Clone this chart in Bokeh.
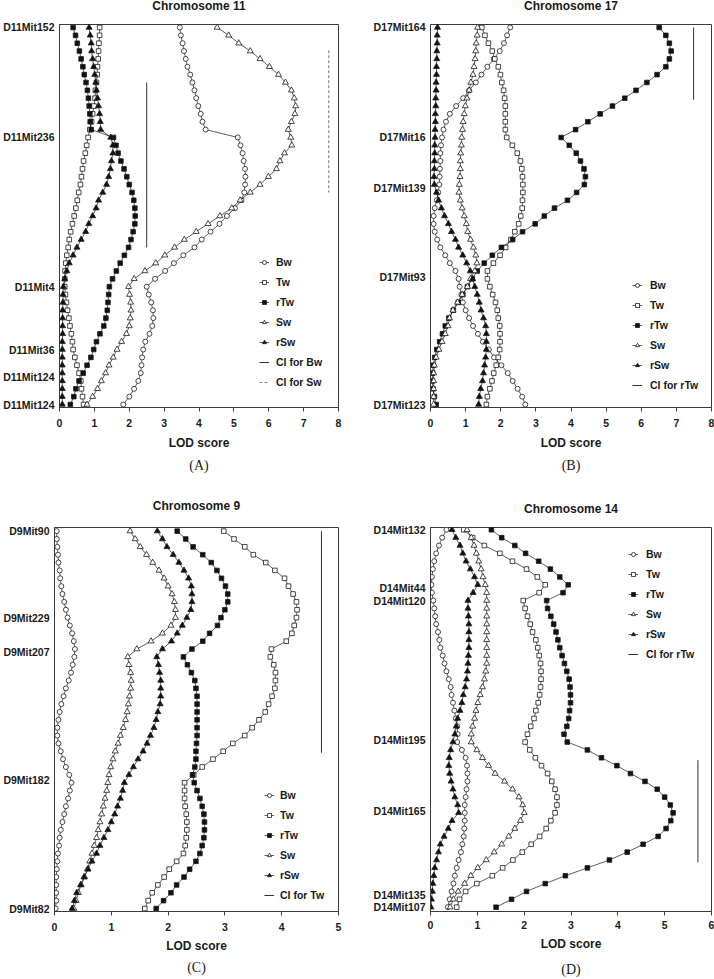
from bokeh.plotting import figure
from bokeh.models import Range1d, FixedTicker, Legend, LegendItem, ColumnDataSource, LinearAxis
from bokeh.layouts import column, row
from bokeh.embed import file_html
from bokeh.resources import INLINE

# analysis positions along each chromosome (scan steps, top to bottom)
positions = list(range(49))

# ---------------- Chromosome 11 (A) ----------------
A_bw = [3.45,3.48,3.53,3.57,3.62,3.67,3.75,3.81,3.87,3.92, 3.98,4.05,4.10,4.19,5.11,5.19,5.25,5.28,5.32,5.33,
        5.32,5.30,5.22,5.03,4.80,4.59,4.33,4.08,3.87,3.55, 3.28,3.03,2.74,2.50,2.56,2.63,2.68,2.69,2.66,2.58,
        2.46,2.40,2.37,2.35,2.33,2.26,2.14,2.00,1.83]
A_tw = [1.15,1.15,1.13,1.12,1.11,1.09,1.08,1.06,1.03,1.02, 0.99,0.95,0.92,0.87,0.82,0.78,0.74,0.69,0.66,0.63,
        0.60,0.55,0.51,0.47,0.42,0.37,0.32,0.28,0.25,0.21, 0.18,0.16,0.15,0.15,0.17,0.20,0.23,0.27,0.30,0.34,
        0.37,0.39,0.44,0.50,0.56,0.61,0.63,0.66,0.69]
A_rtw = [0.39,0.46,0.51,0.57,0.62,0.67,0.71,0.76,0.80,0.83, 0.85,0.87,0.88,0.91,1.55,1.62,1.68,1.76,1.85,1.93,
         2.00,2.08,2.13,2.16,2.17,2.16,2.11,2.05,1.98,1.86, 1.74,1.63,1.52,1.43,1.41,1.39,1.37,1.33,1.27,1.16,
         1.06,0.98,0.90,0.79,0.68,0.56,0.47,0.41,0.31]
A_sw = [4.52,4.85,5.14,5.47,5.75,6.02,6.28,6.48,6.65,6.73, 6.77,6.75,6.65,6.56,6.63,6.66,6.45,6.32,6.22,5.99,
        5.75,5.47,5.18,4.94,4.60,4.26,3.92,3.58,3.30,3.02, 2.76,2.45,2.14,1.98,2.01,2.04,2.05,2.03,2.00,1.92,
        1.78,1.65,1.54,1.42,1.32,1.20,1.09,0.95,0.79]
A_rsw = [0.85,0.88,0.91,0.92,0.95,0.98,1.01,1.04,1.06,1.09, 1.12,1.15,1.17,1.18,1.47,1.53,1.53,1.49,1.46,1.41,
         1.35,1.24,1.12,1.05,0.95,0.84,0.75,0.62,0.50,0.39, 0.28,0.21,0.15,0.11,0.10,0.10,0.09,0.09,0.09,0.09,
         0.08,0.08,0.08,0.08,0.08,0.08,0.08,0.08,0.08]
A_markers = ["D11Mit152", "D11Mit236", "D11Mit4", "D11Mit36", "D11Mit124", "D11Mit124"]
A_marker_pos = [0, 14.0, 33.1, 41.1, 44.5, 48]
A_ci_labels = ["CI for Bw", "CI for Sw"]
A_ci_lod = [2.5, 7.72]
A_ci_start = [7.0, 2.9]
A_ci_end = [28.0, 21.0]

# ---------------- Chromosome 17 (B) ----------------
B_bw = [2.27,2.18,2.09,1.97,1.80,1.62,1.45,1.29,1.10,0.93, 0.73,0.55,0.44,0.37,0.33,0.30,0.28,0.28,0.27,0.26,
        0.25,0.22,0.18,0.12,0.09,0.09,0.12,0.19,0.28,0.42, 0.55,0.71,0.80,0.83,0.88,0.92,1.00,1.10,1.21,1.35,
        1.49,1.66,1.81,2.02,2.20,2.34,2.48,2.61,2.70]
B_tw = [1.46,1.55,1.65,1.76,1.83,1.93,1.99,2.03,2.08,2.11, 2.13,2.13,2.13,2.13,2.17,2.33,2.47,2.56,2.60,2.62,
        2.63,2.63,2.62,2.61,2.57,2.51,2.40,2.29,2.14,1.98, 1.79,1.62,1.62,1.69,1.77,1.85,1.90,1.93,1.97,1.98,
        1.98,1.97,1.93,1.87,1.80,1.75,1.69,1.62,1.59]
B_rtw = [6.51,6.70,6.80,6.85,6.80,6.70,6.45,6.16,5.85,5.53, 5.18,4.83,4.48,4.13,3.72,3.95,4.15,4.27,4.37,4.41,
         4.38,4.16,3.90,3.53,3.24,2.98,2.62,2.34,2.02,1.76, 1.53,1.33,1.19,1.05,0.92,0.79,0.65,0.52,0.42,0.34,
         0.26,0.18,0.12,0.08,0.06,0.05,0.07,0.11,0.16]
B_sw = [1.34,1.33,1.30,1.29,1.27,1.24,1.21,1.15,1.10,1.04, 0.99,0.96,0.93,0.91,0.89,0.88,0.86,0.85,0.85,0.84,
        0.82,0.81,0.85,0.90,0.96,1.02,1.06,1.14,1.22,1.29, 1.32,1.26,1.14,1.05,0.90,0.77,0.64,0.54,0.50,0.42,
        0.33,0.24,0.16,0.11,0.09,0.09,0.09,0.09,0.09]
B_rsw = [0.20,0.19,0.19,0.18,0.18,0.17,0.17,0.16,0.16,0.15, 0.15,0.14,0.14,0.13,0.13,0.12,0.12,0.11,0.11,0.10,
         0.11,0.17,0.23,0.31,0.40,0.51,0.60,0.71,0.80,0.92, 1.03,1.13,1.20,1.26,1.33,1.39,1.44,1.51,1.57,1.59,
         1.59,1.59,1.57,1.54,1.51,1.48,1.43,1.39,1.37]
B_markers = ["D17Mit164", "D17Mit16", "D17Mit139", "D17Mit93", "D17Mit123"]
B_marker_pos = [0, 14.0, 20.4, 31.8, 48]
B_ci_labels = ["CI for rTw"]
B_ci_lod = [7.49]
B_ci_start = [0.0]
B_ci_end = [9.2]

# ---------------- Chromosome 9 (C) ----------------
C_bw = [0.04,0.04,0.05,0.06,0.07,0.09,0.10,0.12,0.14,0.17, 0.20,0.23,0.27,0.31,0.34,0.36,0.35,0.32,0.29,0.25,
        0.20,0.16,0.12,0.09,0.07,0.05,0.05,0.07,0.11,0.15, 0.20,0.26,0.30,0.27,0.24,0.20,0.17,0.14,0.11,0.09,
        0.08,0.06,0.05,0.04,0.03,0.03,0.03,0.03,0.02]
C_tw = [2.98,3.16,3.35,3.50,3.72,3.88,4.05,4.12,4.20,4.26, 4.27,4.26,4.22,4.18,4.08,3.82,3.80,3.86,3.89,3.89,
        3.88,3.83,3.77,3.71,3.60,3.48,3.35,3.14,2.97,2.79, 2.60,2.45,2.29,2.29,2.29,2.30,2.32,2.33,2.33,2.32,
        2.30,2.27,2.15,2.02,1.93,1.82,1.72,1.65,1.59]
C_rtw = [2.16,2.31,2.44,2.61,2.76,2.86,2.94,3.01,3.05,3.05, 3.00,2.93,2.87,2.73,2.61,2.42,2.27,2.34,2.41,2.47,
         2.49,2.51,2.51,2.51,2.51,2.51,2.51,2.50,2.49,2.49, 2.47,2.43,2.46,2.51,2.56,2.60,2.63,2.64,2.64,2.63,
         2.60,2.56,2.49,2.38,2.28,2.15,2.05,1.92,1.79]
C_sw = [1.33,1.42,1.51,1.62,1.73,1.84,1.93,2.00,2.07,2.11, 2.13,2.13,2.05,1.90,1.70,1.45,1.29,1.31,1.34,1.35,
        1.34,1.32,1.30,1.28,1.25,1.21,1.16,1.12,1.07,1.03, 0.99,0.96,0.94,0.92,0.89,0.86,0.83,0.80,0.77,0.74,
        0.70,0.66,0.62,0.58,0.53,0.47,0.42,0.38,0.34]
C_rsw = [1.81,1.90,1.98,2.09,2.19,2.28,2.36,2.41,2.42,2.42, 2.40,2.33,2.25,2.16,2.06,1.90,1.80,1.83,1.85,1.87,
         1.87,1.87,1.86,1.82,1.79,1.75,1.69,1.63,1.56,1.47, 1.39,1.31,1.23,1.20,1.16,1.11,1.06,1.00,0.94,0.87,
         0.80,0.74,0.66,0.59,0.52,0.46,0.39,0.35,0.31]
C_markers = ["D9Mit90", "D9Mit229", "D9Mit207", "D9Mit182", "D9Mit82"]
C_marker_pos = [0, 11.1, 15.4, 31.7, 48]
C_ci_labels = ["CI for Tw"]
C_ci_lod = [4.70]
C_ci_start = [0.0]
C_ci_end = [28.2]

# ---------------- Chromosome 14 (D) ----------------
D_bw = [0.34,0.25,0.18,0.12,0.08,0.05,0.03,0.02,0.03,0.06, 0.08,0.10,0.12,0.16,0.19,0.21,0.26,0.30,0.34,0.39,
        0.43,0.45,0.48,0.51,0.54,0.57,0.58,0.57,0.67,0.75, 0.78,0.79,0.79,0.77,0.75,0.73,0.73,0.73,0.72,0.71,
        0.68,0.65,0.60,0.56,0.52,0.49,0.45,0.41,0.37]
D_tw = [0.71,0.90,1.15,1.48,1.75,2.05,2.28,2.45,2.32,1.98, 2.02,2.07,2.13,2.18,2.25,2.29,2.32,2.35,2.36,2.36,
        2.35,2.33,2.30,2.25,2.21,2.14,2.07,2.02,2.12,2.24, 2.37,2.50,2.59,2.66,2.70,2.70,2.66,2.57,2.47,2.33,
        2.15,1.96,1.76,1.54,1.32,0.99,0.75,0.62,0.56]
D_rtw = [1.30,1.52,1.80,2.03,2.31,2.56,2.76,2.94,2.83,2.48, 2.50,2.57,2.63,2.68,2.72,2.76,2.81,2.86,2.91,2.96,
         2.98,2.99,2.99,2.97,2.95,2.91,2.85,2.92,3.35,3.65, 3.98,4.27,4.58,4.84,5.00,5.12,5.18,5.13,5.03,4.86,
         4.54,4.20,3.82,3.35,2.88,2.45,2.05,1.73,1.40]
D_sw = [0.78,0.87,0.93,0.98,1.03,1.08,1.12,1.17,1.20,1.20, 1.20,1.20,1.20,1.20,1.20,1.20,1.20,1.20,1.18,1.15,
        1.11,1.06,1.01,0.97,0.94,0.90,0.87,0.87,0.99,1.11, 1.24,1.38,1.58,1.75,1.89,1.97,2.00,1.92,1.80,1.67,
        1.52,1.36,1.19,1.01,0.86,0.73,0.59,0.49,0.42]
D_rsw = [0.46,0.54,0.63,0.69,0.76,0.85,0.94,1.01,0.91,0.80, 0.80,0.81,0.82,0.82,0.82,0.82,0.81,0.80,0.79,0.77,
         0.74,0.70,0.67,0.63,0.58,0.55,0.52,0.48,0.43,0.40, 0.39,0.41,0.44,0.48,0.52,0.58,0.60,0.46,0.38,0.29,
         0.21,0.17,0.13,0.09,0.07,0.05,0.04,0.02,0.01]
D_markers = ["D14Mit132", "D14Mit44", "D14Mit120", "D14Mit195", "D14Mit165", "D14Mit135", "D14Mit107"]
D_marker_pos = [0, 7.4, 9.0, 26.7, 35.8, 46.4, 48]
D_ci_labels = ["CI for rTw"]
D_ci_lod = [5.71]
D_ci_start = [29.3]
D_ci_end = [42.3]

series_names = ["Bw", "Tw", "rTw", "Sw", "rSw"]

SANS = "Liberation Sans"
SERIF = "Liberation Serif"
INK = "#1a1a1a"
FRAME = "#3a3a3a"

marker_style = {
    "Bw": ("circle", "white", 5),
    "Tw": ("square", "white", 4.6),
    "rTw": ("square", "#111111", 4.6),
    "Sw": ("triangle", "white", 6),
    "rSw": ("triangle", "#111111", 6),
}


def text_axis(label, standoff, font, style, size):
    """An axis without ticks, used only to carry a caption outside the frame."""
    return LinearAxis(ticker=FixedTicker(ticks=[]), axis_label=label,
                      axis_label_standoff=standoff, axis_label_text_font=font,
                      axis_label_text_font_style=style, axis_label_text_font_size=size,
                      axis_label_text_color=INK, axis_line_color=None,
                      major_tick_out=0, major_tick_in=0, minor_tick_out=0, minor_tick_in=0,
                      major_label_standoff=0)


def make_panel(cfg):
    p = figure(width=cfg["w"], height=cfg["h"],
               x_range=Range1d(0, cfg["xmax"]),
               y_range=Range1d(cfg["ybot"], cfg["ytop"]),
               output_backend="svg", toolbar_location=None, title=None,
               min_border_left=cfg["bl"], min_border_right=cfg["br"],
               min_border_top=cfg["bt"], min_border_bottom=cfg["bb"])
    p.xgrid.visible = False
    p.ygrid.visible = False
    p.outline_line_color = FRAME
    p.outline_line_width = 1
    p.background_fill_color = "white"
    p.border_fill_color = "white"

    xa = p.xaxis[0]
    xa.ticker = FixedTicker(ticks=list(range(cfg["xmax"] + 1)))
    xa.axis_line_color = FRAME
    xa.major_tick_line_color = FRAME
    xa.major_tick_out = 4
    xa.major_tick_in = 0
    xa.minor_tick_out = 0
    xa.minor_tick_in = 0
    xa.major_label_standoff = cfg["tick_standoff"]
    xa.major_label_text_font = SANS
    xa.major_label_text_font_style = "bold"
    xa.major_label_text_font_size = "10.5px"
    xa.major_label_text_color = INK
    xa.axis_label = "LOD score"
    xa.axis_label_text_font = SANS
    xa.axis_label_text_font_style = "bold"
    xa.axis_label_text_font_size = "12px"
    xa.axis_label_text_color = INK
    xa.axis_label_standoff = cfg["label_standoff"]

    ya = p.yaxis[0]
    ya.ticker = FixedTicker(ticks=cfg["marker_pos"])
    ya.major_label_overrides = {pos: name for pos, name in zip(cfg["marker_pos"], cfg["markers"])}
    ya.axis_line_color = FRAME
    ya.major_tick_out = 0
    ya.major_tick_in = 0
    ya.minor_tick_out = 0
    ya.minor_tick_in = 0
    ya.major_label_standoff = 5
    ya.major_label_text_font = SANS
    ya.major_label_text_font_style = "bold"
    ya.major_label_text_font_size = "10.5px"
    ya.major_label_text_color = INK

    # chart title above the frame and the panel letter below the x axis
    p.add_layout(text_axis(cfg["title"], cfg["title_standoff"], SANS, "bold", "12px"), "above")
    p.add_layout(text_axis(cfg["letter"], cfg["letter_standoff"], SERIF, "normal", "14px"), "below")

    ci_items = []
    for lab, lod, y0, y1 in zip(cfg["ci_labels"], cfg["ci_lod"], cfg["ci_start"], cfg["ci_end"]):
        dashed = lab == "CI for Sw"
        src = ColumnDataSource(dict(x0=[lod], y0=[y0], x1=[lod], y1=[y1]))
        r = p.segment("x0", "y0", "x1", "y1", source=src,
                      line_color="#8a8a8a" if dashed else "#333333",
                      line_width=1.2 if dashed else 1,
                      line_dash="3 2" if dashed else "solid")
        ci_items.append((lab, [r]))

    series_items = []
    for name, vals in zip(series_names, cfg["series"]):
        marker, fill, size = marker_style[name]
        src = ColumnDataSource(dict(lod=vals, pos=positions))
        ln = p.line("lod", "pos", source=src, line_color=INK, line_width=0.7)
        sc = p.scatter("lod", "pos", source=src, marker=marker, size=size,
                       fill_color=fill, line_color=INK, line_width=0.8)
        series_items.append((name, [ln, sc]))

    legend = Legend(items=[LegendItem(label=n, renderers=r) for n, r in series_items + ci_items],
                    location=cfg["legend_loc"], orientation="vertical",
                    border_line_alpha=0, background_fill_alpha=0,
                    padding=0, margin=0, spacing=4,
                    glyph_width=10, glyph_height=16, label_height=16,
                    label_standoff=cfg["legend_standoff"],
                    label_text_font=SANS, label_text_font_style="bold",
                    label_text_font_size="10.5px", label_text_color=INK)
    p.add_layout(legend)
    return p


# top row is 20px taller and the whole layout is lifted by 20px, so the titles
# can sit at the very top edge of the page without squeezing the plot frames
pA = make_panel(dict(w=370, h=510, bl=57, br=32, bt=44, bb=83, xmax=8, ybot=48.38, ytop=-0.38,
                     series=[A_bw, A_tw, A_rtw, A_sw, A_rsw],
                     ci_labels=A_ci_labels, ci_lod=A_ci_lod, ci_start=A_ci_start, ci_end=A_ci_end,
                     markers=A_markers, marker_pos=A_marker_pos,
                     title="Chromosome 11", title_standoff=12, letter="(A)", letter_standoff=5,
                     legend_loc=(200, 17), legend_standoff=7,
                     tick_standoff=7, label_standoff=6))
pB = make_panel(dict(w=344, h=510, bl=60, br=3, bt=44, bb=83, xmax=8, ybot=48.38, ytop=-0.38,
                     series=[B_bw, B_tw, B_rtw, B_sw, B_rsw],
                     ci_labels=B_ci_labels, ci_lod=B_ci_lod, ci_start=B_ci_start, ci_end=B_ci_end,
                     markers=B_markers, marker_pos=B_marker_pos,
                     title="Chromosome 17", title_standoff=12, letter="(B)", letter_standoff=5,
                     legend_loc=(202, 14), legend_standoff=8,
                     tick_standoff=7, label_standoff=6))
pC = make_panel(dict(w=370, h=489, bl=52, br=32, bt=33, bb=66, xmax=5, ybot=48.38, ytop=-0.46,
                     series=[C_bw, C_tw, C_rtw, C_sw, C_rsw],
                     ci_labels=C_ci_labels, ci_lod=C_ci_lod, ci_start=C_ci_start, ci_end=C_ci_end,
                     markers=C_markers, marker_pos=C_marker_pos,
                     title="Chromosome 9", title_standoff=15, letter="(C)", letter_standoff=4,
                     legend_loc=(210, 8), legend_standoff=6,
                     tick_standoff=7, label_standoff=5))
pD = make_panel(dict(w=344, h=489, bl=60, br=3, bt=37, bb=68, xmax=6, ybot=48.55, ytop=-0.29,
                     series=[D_bw, D_tw, D_rtw, D_sw, D_rsw],
                     ci_labels=D_ci_labels, ci_lod=D_ci_lod, ci_start=D_ci_start, ci_end=D_ci_end,
                     markers=D_markers, marker_pos=D_marker_pos,
                     title="Chromosome 14", title_standoff=12, letter="(D)", letter_standoff=8,
                     legend_loc=(198, 249), legend_standoff=8,
                     tick_standoff=5, label_standoff=5))

layout = column(row(pA, pB), row(pC, pD), styles={"margin-top": "-20px"})

open("out.html", "w").write(file_html(layout, INLINE))
